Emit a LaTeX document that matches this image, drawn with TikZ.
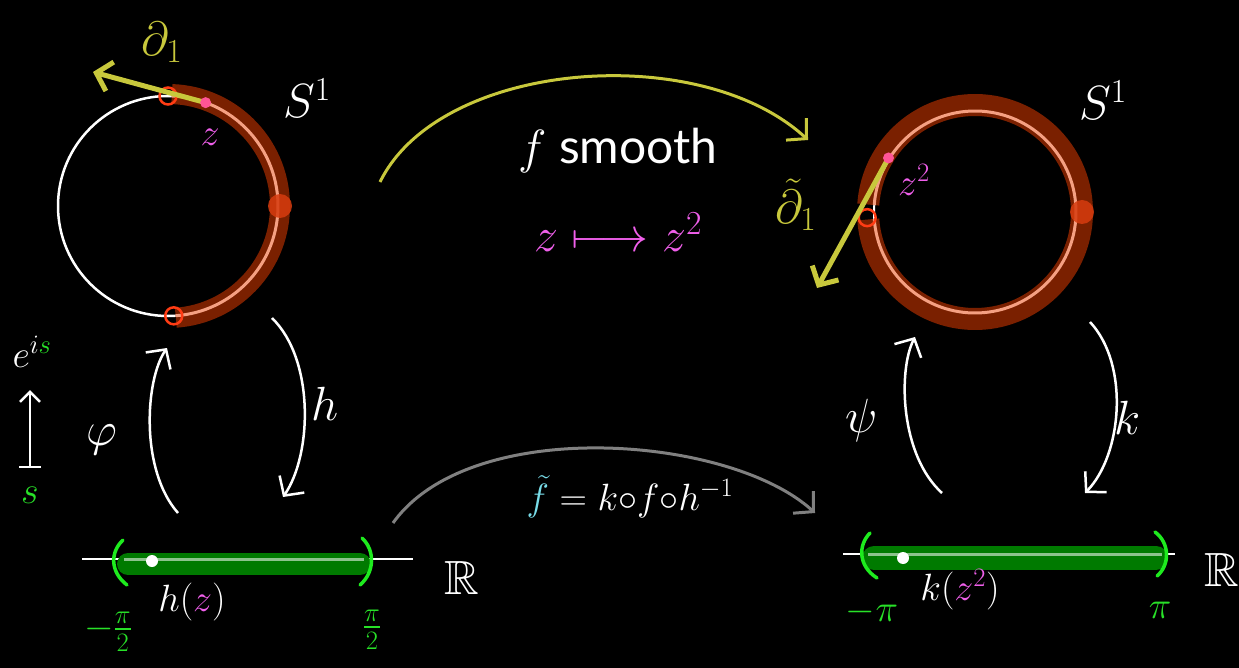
\RequirePackage{fix-cm}
\documentclass[tikz,border=0pt]{standalone}
\usepackage{amssymb}
\usepackage{fontspec}
\setmainfont{Lato}
\usetikzlibrary{arrows.meta, positioning, calc}

\definecolor{bandred}{RGB}{122,32,0}
\definecolor{salmon}{RGB}{245,160,130}
\definecolor{blobred}{RGB}{215,60,15}
\definecolor{holered}{RGB}{255,60,20}
\definecolor{yel}{RGB}{200,200,60}
\definecolor{zdotc}{RGB}{255,85,150}
\definecolor{zlab}{RGB}{240,95,235}
\definecolor{gdark}{RGB}{0,122,0}
\definecolor{gbright}{RGB}{30,235,30}
\definecolor{gtext}{RGB}{40,225,40}
\definecolor{fcyan}{RGB}{120,220,232}
\definecolor{arcgrey}{RGB}{128,128,128}

\begin{document}
\begin{tikzpicture}[x=1pt, y=-1pt,
    lbl/.style={text=white, inner sep=0pt, font=\fontsize{48}{56}\selectfont},
    small/.style={lbl, font=\fontsize{38}{44}\selectfont},
    curvy/.style={white, line width=2.5pt, -{Straight Barb[length=14pt, width=30pt]}},
    yarrow/.style={yel, line width=5pt, -{Straight Barb[length=14pt, width=30pt]}},
    pinkdot/.style={circle, fill=zdotc, inner sep=0pt, minimum size=11pt},
    hole/.style={circle, draw=holered, line width=2.5pt, inner sep=0pt, minimum size=17pt},
    wdot/.style={circle, fill=white, inner sep=0pt, minimum size=12pt},
    paren/.style={gbright, line width=3.5pt, line cap=round}]

  \path[use as bounding box, fill=black] (0,0) rectangle (1239,668);

  % left circle, the arc that h sees
  \coordinate (lc) at (168,206);
  \draw[white, line width=2.5pt] (lc) circle[radius=110];
  \draw[bandred, line width=20pt] (lc) ++(-88:112) arc[start angle=-88, end angle=86, radius=112];
  \draw[salmon, line width=3pt] (lc) ++(-88:110) arc[start angle=-88, end angle=86, radius=110];
  \fill[blobred, opacity=.85] (lc) ++(0:112) circle[radius=12];
  \node[hole] (ltop) at ($(lc)+(-90:110)$) {};
  \node[hole] (lbot) at ($(lc)+(87:110)$) {};
  \coordinate (zpt) at ($(lc)+(-70:110)$);
  \coordinate (dtip) at (93,72);
  \draw[yarrow] (zpt) -- (dtip);
  \node[pinkdot] (zdot) at (zpt) {};

  % right circle, the whole ring
  \coordinate (rc) at (975,212);
  \draw[white, line width=2pt] (rc) circle[radius=101];
  \draw[bandred, line width=22pt] (rc) ++(184:107) arc[start angle=184, end angle=536, radius=107];
  \draw[salmon, line width=3pt] (rc) ++(184:101) arc[start angle=184, end angle=536, radius=101];
  \fill[blobred, opacity=.85] (rc) ++(0:107) circle[radius=12];
  \node[hole] (rhole) at ($(rc)+(177:108)$) {};
  \coordinate (z2pt) at ($(rc)+(212:102)$);
  \coordinate (dttip) at (817,288);
  \draw[yarrow] (z2pt) -- (dttip);
  \node[pinkdot] (z2dot) at (z2pt) {};

  % the two lines
  \draw[white, line width=2.5pt] (82,559) -- (413,559);
  \draw[gdark, line width=22pt, line cap=round] (128,564) -- (360,564);
  \draw[white, opacity=.55, line width=3pt] (124,559) -- (364,559);
  \draw[paren] (123,540) .. controls (110,552) and (110,572) .. (127,585);
  \draw[paren] (362,538) .. controls (375,550) and (375,572) .. (360,585);
  \node[wdot] (hdot) at (152,561) {};

  \draw[white, line width=2.5pt] (843,554) -- (1175,554);
  \draw[gdark, line width=24pt, line cap=round] (874,558) -- (1156,558);
  \draw[white, opacity=.55, line width=3pt] (868,554) -- (1162,554);
  \draw[paren] (870,533) .. controls (858,545) and (858,566) .. (877,578);
  \draw[paren] (1155,532) .. controls (1170,543) and (1170,565) .. (1157,576);
  \node[wdot] (kdot) at (903,558) {};

  % maps
  \coordinate (fa) at (380,182);
  \coordinate (fb) at (808,140);
  \draw[yel, line width=3pt, -{Straight Barb[length=14pt, width=30pt]}] (fa) .. controls (440,60) and (700,40) .. (fb);
  \coordinate (ga) at (393,523);
  \coordinate (gb) at (815,513);
  \draw[arcgrey, line width=3pt, -{Straight Barb[length=14pt, width=30pt]}] (ga) .. controls (470,415) and (730,435) .. (gb);
  \coordinate (pa) at (178,513);
  \coordinate (pb) at (167,348);
  \draw[curvy] (pa) .. controls (140,470) and (145,380) .. (pb);
  \coordinate (ha) at (272,318);
  \coordinate (hb) at (283,497);
  \draw[curvy] (ha) .. controls (315,360) and (312,455) .. (hb);
  \coordinate (qa) at (942,493);
  \coordinate (qb) at (915,337);
  \draw[curvy] (qa) .. controls (900,455) and (898,370) .. (qb);
  \coordinate (ka) at (1090,322);
  \coordinate (kb) at (1085,493);
  \draw[curvy] (ka) .. controls (1130,365) and (1122,455) .. (kb);
  \coordinate (sa) at (30,468);
  \coordinate (sb) at (30,390);
  \draw[white, line width=2.5pt, {Bar[width=22pt]}-{Straight Barb[length=10pt, width=20pt]}] (sa) -- (sb);

  % labels
  \node[lbl, text=yel] (dlbl) at (162,42) {$\partial_1$};
  \node[small, text=zlab] (zlbl) at (210,137) {$z$};
  \node[lbl] (s1l) at (307,98) {$S^1$};
  \node[lbl] (s1r) at (1103,100) {$S^1$};
  \node[lbl] (fsm) at (618,150) {$f$ smooth};
  \node[lbl, text=zlab] (zmap) at (618,232) {$z\longmapsto z^2$};
  \node[lbl, text=yel] (dtl) at (796,205) {$\tilde\partial_1$};
  \node[small, text=zlab] (z2l) at (914,180) {$z^2$};
  \node[lbl] (phil) at (102,440) {$\varphi$};
  \node[lbl] (hl) at (325,404) {$h$};
  \node[lbl] (psil) at (862,420) {$\psi$};
  \node[lbl] (kl) at (1128,418) {$k$};
  \node[small] (eis) at (32,352) {$e^{i\textcolor{gtext}{s}}$};
  \node[small, text=gtext] (sl) at (30,495) {$s$};
  \node[small] (hz) at (192,602) {$h(\textcolor{zlab}{z})$};
  \node[small, text=gtext] (mpi2) at (108,632) {$-\frac{\pi}{2}$};
  \node[small, text=gtext] (pi2) at (372,630) {$\frac{\pi}{2}$};
  \node[lbl] (rl) at (462,578) {$\mathbb{R}$};
  \node[small] (kz) at (960,590) {$k(\textcolor{zlab}{z^2})$};
  \node[small, text=gtext] (mpi) at (872,612) {$-\pi$};
  \node[small, text=gtext] (pir) at (1160,610) {$\pi$};
  \node[lbl] (rr) at (1222,570) {$\mathbb{R}$};
  \node[small] (ftl) at (630,497) {$\textcolor{fcyan}{\tilde f}={}k{\circ}f{\circ}h^{-1}$};
\end{tikzpicture}
\end{document}
